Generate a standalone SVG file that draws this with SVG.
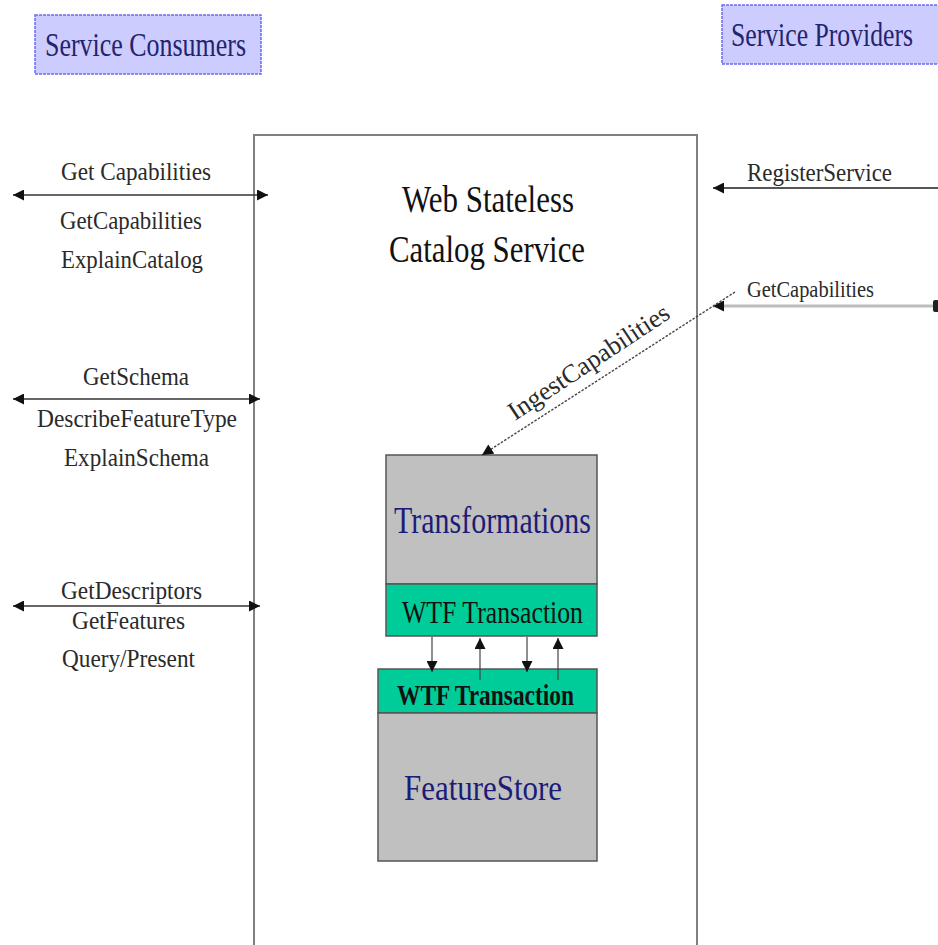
<svg xmlns="http://www.w3.org/2000/svg" width="938" height="945" viewBox="0 0 938 945">
  <style>
    .lbl { font-family: "Liberation Serif", "Times New Roman", serif; fill: #2a2a2a; }
    .hdr { font-family: "Liberation Serif", "Times New Roman", serif; font-size: 34px; fill: #23236e; }
    .hdrbox { fill: #ccccff; stroke: #6b6bf0; stroke-width: 1.5; stroke-dasharray: 3 1; }
    .gray { fill: #c0c0c0; stroke: #555; stroke-width: 1.5; }
    .green { fill: #00cc99; stroke: #555; stroke-width: 1.5; }
    .navy { font-family: "Liberation Serif", "Times New Roman", serif; fill: #1c1c78; }
    .blk { font-family: "Liberation Serif", "Times New Roman", serif; fill: #111; }
    .conn { stroke: #333; stroke-width: 1.5; fill: none; }
    .thin { stroke: #444; stroke-width: 1.2; fill: none; }
  </style>
  <defs>
    <marker id="arrow" viewBox="0 0 10 10" refX="10" refY="5" markerWidth="12" markerHeight="11" markerUnits="userSpaceOnUse" orient="auto-start-reverse">
      <path d="M0,0 L10,5 L0,10 z" fill="#111"/>
    </marker>
    <marker id="tail" viewBox="0 0 6 12" refX="3" refY="6" markerWidth="6" markerHeight="12" markerUnits="userSpaceOnUse" orient="auto">
      <rect x="0" y="0" width="6" height="12" rx="2" fill="#222"/>
    </marker>
  </defs>

  <rect width="938" height="945" fill="#ffffff"/>

  <!-- Actor headers -->
  <g id="service-consumers">
    <rect class="hdrbox" x="35" y="15" width="226" height="59"/>
    <text class="hdr" x="45" y="56" textLength="201" lengthAdjust="spacingAndGlyphs">Service Consumers</text>
  </g>
  <g id="service-providers">
    <rect class="hdrbox" x="722" y="5" width="218" height="59"/>
    <text class="hdr" x="731" y="46" textLength="182" lengthAdjust="spacingAndGlyphs">Service Providers</text>
  </g>

  <!-- Catalog service boundary -->
  <g id="catalog-service">
    <path d="M254,947 L254,135 L697,135 L697,947" fill="#ffffff" stroke="#808080" stroke-width="2"/>
    <text class="blk" x="402" y="212" font-size="38" textLength="172" lengthAdjust="spacingAndGlyphs">Web Stateless</text>
    <text class="blk" x="389" y="262" font-size="38" textLength="196" lengthAdjust="spacingAndGlyphs">Catalog Service</text>
  </g>

  <!-- Inner components -->
  <g id="transformations">
    <rect class="gray" x="386" y="455" width="211" height="129"/>
    <text class="navy" x="394" y="533" font-size="38" textLength="197" lengthAdjust="spacingAndGlyphs">Transformations</text>
  </g>
  <g id="wtf-transaction-upper">
    <rect class="green" x="386" y="584" width="211" height="52"/>
    <text class="blk" x="402" y="623" font-size="32" textLength="181" lengthAdjust="spacingAndGlyphs">WTF Transaction</text>
  </g>
  <g id="wtf-transaction-lower">
    <rect class="green" x="378" y="669" width="219" height="44"/>
    <text class="blk" x="397" y="705" font-size="30" font-weight="bold" textLength="177" lengthAdjust="spacingAndGlyphs">WTF Transaction</text>
  </g>
  <g id="featurestore">
    <rect class="gray" x="378" y="713" width="219" height="148"/>
    <text class="navy" x="404" y="800" font-size="36" textLength="158" lengthAdjust="spacingAndGlyphs">FeatureStore</text>
  </g>

  <!-- Connectors -->
  <g id="connectors">
    <line class="conn" x1="13" y1="195" x2="268" y2="195" marker-start="url(#arrow)" marker-end="url(#arrow)"/>
    <line class="conn" x1="13" y1="399" x2="260" y2="399" marker-start="url(#arrow)" marker-end="url(#arrow)"/>
    <line class="conn" x1="13" y1="606" x2="260" y2="606" marker-start="url(#arrow)" marker-end="url(#arrow)"/>

    <line x1="940" y1="188" x2="713" y2="188" stroke="#555" stroke-width="2" marker-end="url(#arrow)"/>
    <line x1="936" y1="306" x2="713" y2="306" stroke="#bdbdbd" stroke-width="3" marker-start="url(#tail)" marker-end="url(#arrow)"/>

    <line x1="735" y1="292" x2="482" y2="455" stroke="#444" stroke-width="1.4" stroke-dasharray="2.5 1.5" marker-end="url(#arrow)"/>

    <line class="thin" x1="432" y1="637" x2="432" y2="672" marker-end="url(#arrow)"/>
    <line class="thin" x1="527" y1="637" x2="527" y2="672" marker-end="url(#arrow)"/>
    <line class="thin" x1="480" y1="680" x2="480" y2="638" marker-end="url(#arrow)"/>
    <line class="thin" x1="558" y1="680" x2="558" y2="638" marker-end="url(#arrow)"/>
  </g>

  <!-- Connector labels -->
  <g id="labels">
    <text class="lbl" x="61" y="180" font-size="26" textLength="150" lengthAdjust="spacingAndGlyphs">Get Capabilities</text>
    <text class="lbl" x="60" y="229" font-size="26" textLength="142" lengthAdjust="spacingAndGlyphs">GetCapabilities</text>
    <text class="lbl" x="61" y="268" font-size="26" textLength="142" lengthAdjust="spacingAndGlyphs">ExplainCatalog</text>

    <text class="lbl" x="83" y="385" font-size="26" textLength="106" lengthAdjust="spacingAndGlyphs">GetSchema</text>
    <text class="lbl" x="37" y="427" font-size="26" textLength="200" lengthAdjust="spacingAndGlyphs">DescribeFeatureType</text>
    <text class="lbl" x="64" y="466" font-size="26" textLength="145" lengthAdjust="spacingAndGlyphs">ExplainSchema</text>

    <text class="lbl" x="61" y="599" font-size="26" textLength="141" lengthAdjust="spacingAndGlyphs">GetDescriptors</text>
    <text class="lbl" x="72" y="629" font-size="26" textLength="113" lengthAdjust="spacingAndGlyphs">GetFeatures</text>
    <text class="lbl" x="62" y="667" font-size="26" textLength="133" lengthAdjust="spacingAndGlyphs">Query/Present</text>

    <text class="lbl" x="747" y="181" font-size="26" textLength="145" lengthAdjust="spacingAndGlyphs">RegisterService</text>
    <text class="lbl" x="747" y="297" font-size="24" textLength="127" lengthAdjust="spacingAndGlyphs">GetCapabilities</text>

    <text class="lbl" font-size="26" textLength="188" lengthAdjust="spacingAndGlyphs" transform="translate(515,421) rotate(-33.5)">IngestCapabilities</text>
  </g>
</svg>
